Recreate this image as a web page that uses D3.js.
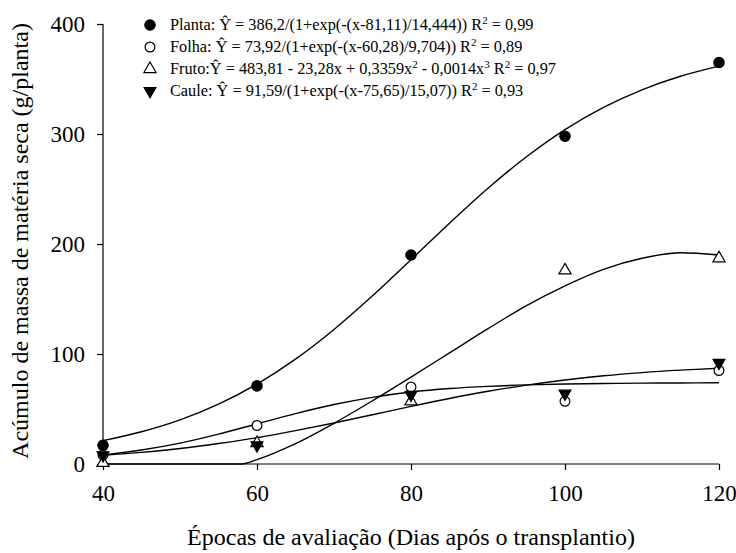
<!DOCTYPE html>
<html>
<head>
<meta charset="utf-8">
<script src="https://cdn.jsdelivr.net/npm/d3@7"></script>
<style>
  body { margin: 0; background: #fff; }
</style>
</head>
<body>
<svg id="chart" width="736" height="553"></svg>
<script>
var SERIF = "'Liberation Serif', 'Times New Roman', serif";

// observed days
var days = [40, 60, 80, 100, 120];
var planta = [17, 71, 190, 298, 365];
var folha = [8, 35, 70, 57, 85];
var fruto = [1, 19, 57, 176, 187];
var caule = [8, 17, 63, 64, 92];

// fitted curves, read every 5 days
var curveX = [40, 45, 50, 55, 60, 65, 70, 75, 80, 85, 90, 95, 100, 105, 110, 115, 120];
var plantaFit = [21.2, 29.3, 40.1, 54.4, 72.7, 95.3, 122.3, 152.9, 185.7, 218.9, 250.7, 279.3, 304.0, 324.2, 340.2, 352.5, 361.7];
var folhaFit = [8.1, 12.7, 19.0, 27.2, 36.4, 45.8, 54.1, 60.6, 65.4, 68.6, 70.6, 71.9, 72.7, 73.2, 73.5, 73.7, 73.8];
var cauleFit = [7.9, 10.6, 14.1, 18.6, 23.9, 30.3, 37.3, 44.8, 52.4, 59.6, 66.1, 71.7, 76.4, 80.2, 83.1, 85.3, 87.0];
// fruto lies on the axis until ~58 days
var frutoX = [40, 50, 58, 60, 65, 70, 75, 80, 85, 90, 95, 100, 105, 110, 115, 120];
var frutoFit = [0, 0, 0, 4, 18.5, 37, 57.5, 79, 101, 123, 144, 162, 177, 187, 192, 190];

var xTicks = [40, 60, 80, 100, 120];
var yTicks = [0, 100, 200, 300, 400];

// legend text pieces: [text, superscript?]
var legendRows = [
  { symbol: "circleFilled", parts: [["Planta: Ŷ = 386,2/(1+exp(-(x-81,11)/14,444)) R", 0], ["2", 1], [" = 0,99", 0]] },
  { symbol: "circleOpen", parts: [["Folha: Ŷ = 73,92/(1+exp(-(x-60,28)/9,704)) R", 0], ["2", 1], [" = 0,89", 0]] },
  { symbol: "triangleUp", parts: [["Fruto:Ŷ = 483,81 - 23,28x + 0,3359x", 0], ["2", 1], [" - 0,0014x", 0], ["3", 1], [" R", 0], ["2", 1], [" = 0,97", 0]] },
  { symbol: "triangleDown", parts: [["Caule: Ŷ = 91,59/(1+exp(-(x-75,65)/15,07)) R", 0], ["2", 1], [" = 0,93", 0]] }
];

var svgEl = d3.select("#chart").style("font-family", SERIF);
var margin = { top: 24, right: 17, bottom: 89, left: 103 },
  width = svgEl.attr("width") - margin.left - margin.right,
  height = svgEl.attr("height") - margin.top - margin.bottom;

var svg = svgEl.append("g")
  .attr("transform", "translate(" + margin.left + "," + margin.top + ")");

var x = d3.scaleLinear().domain([40, 120]).range([0, width]);
var y = d3.scaleLinear().domain([0, 400]).range([height, 0]);

// axes
var xAxis = svg.append("g")
  .attr("transform", "translate(0," + height + ")")
  .call(d3.axisBottom(x).tickValues(xTicks).tickSize(6).tickPadding(15));
var yAxis = svg.append("g")
  .call(d3.axisLeft(y).tickValues(yTicks).tickSize(6).tickPadding(12));

[xAxis, yAxis].forEach(function (a) {
  a.attr("font-family", SERIF).attr("font-size", null);
  a.select(".domain").attr("stroke", "#000").attr("stroke-width", 1.2);
  a.selectAll(".tick line").attr("stroke", "#000").attr("stroke-width", 1.2);
  a.selectAll(".tick text").attr("fill", "#000")
    .style("font-family", SERIF).style("font-size", "23px");
});
xAxis.select(".domain").attr("d", "M0,0H" + width);
yAxis.select(".domain").attr("d", "M0," + height + "V0");

// axis titles
svg.append("text")
  .attr("x", width / 2)
  .attr("y", height + 81)
  .attr("text-anchor", "middle")
  .style("font-family", SERIF)
  .style("font-size", "24px")
  .text("Épocas de avaliação (Dias após o transplantio)");

svg.append("text")
  .attr("transform", "translate(-75," + (height / 2 - 3) + ") rotate(-90)")
  .attr("text-anchor", "middle")
  .style("font-family", SERIF)
  .style("font-size", "24px")
  .text("Acúmulo de massa de matéria seca (g/planta)");

// fitted curves
var line = d3.line()
  .x(function (d) { return x(d[0]); })
  .y(function (d) { return y(d[1]); })
  .curve(d3.curveCatmullRom.alpha(0.5));

[[curveX, plantaFit], [curveX, folhaFit], [curveX, cauleFit]].forEach(function (c) {
  svg.append("path")
    .datum(d3.zip(c[0], c[1]))
    .attr("d", line)
    .attr("fill", "none")
    .attr("stroke", "#000")
    .attr("stroke-width", 1.4);
});
svg.append("path")
  .datum(d3.zip(frutoX, frutoFit))
  .attr("d", line.curve(d3.curveMonotoneX))
  .attr("fill", "none")
  .attr("stroke", "#000")
  .attr("stroke-width", 1.4);

// markers
var symbols = {
  circleFilled: { type: d3.symbolCircle, size: 85, fill: "#000" },
  circleOpen: { type: d3.symbolCircle, size: 75, fill: "#fff" },
  triangleUp: { type: d3.symbolTriangle, size: 65, fill: "#fff", rotate: 0 },
  triangleDown: { type: d3.symbolTriangle, size: 60, fill: "#000", rotate: 180 }
};

function drawMarkers(values, key) {
  var s = symbols[key];
  svg.selectAll(".m-" + key)
    .data(d3.zip(days, values))
    .enter()
    .append("path")
    .attr("class", "m-" + key)
    .attr("d", d3.symbol().type(s.type).size(s.size))
    .attr("transform", function (d) {
      return "translate(" + x(d[0]) + "," + y(d[1]) + ")" + (s.rotate ? " rotate(" + s.rotate + ")" : "");
    })
    .attr("fill", s.fill)
    .attr("stroke", "#000")
    .attr("stroke-width", 1.2);
}

drawMarkers(planta, "circleFilled");
drawMarkers(folha, "circleOpen");
drawMarkers(fruto, "triangleUp");
drawMarkers(caule, "triangleDown");

// legend
var legend = svg.append("g").attr("transform", "translate(47,1)");
legendRows.forEach(function (row, i) {
  var g = legend.append("g").attr("transform", "translate(0," + i * 22 + ")");
  var s = symbols[row.symbol];
  g.append("path")
    .attr("d", d3.symbol().type(s.type).size(s.size))
    .attr("transform", s.rotate ? "rotate(" + s.rotate + ")" : null)
    .attr("fill", s.fill)
    .attr("stroke", "#000")
    .attr("stroke-width", 1.2);
  var t = g.append("text")
    .attr("x", 20)
    .attr("y", 5)
    .style("font-family", SERIF)
    .style("font-size", "16.3px");
  row.parts.forEach(function (p, j) {
    var sp = t.append("tspan").text(p[0]);
    var prev = row.parts[j - 1];
    if (p[1]) sp.attr("dy", -6).style("font-size", "11px");
    else if (prev && prev[1]) sp.attr("dy", 6);
  });
});
</script>
</body>
</html>
